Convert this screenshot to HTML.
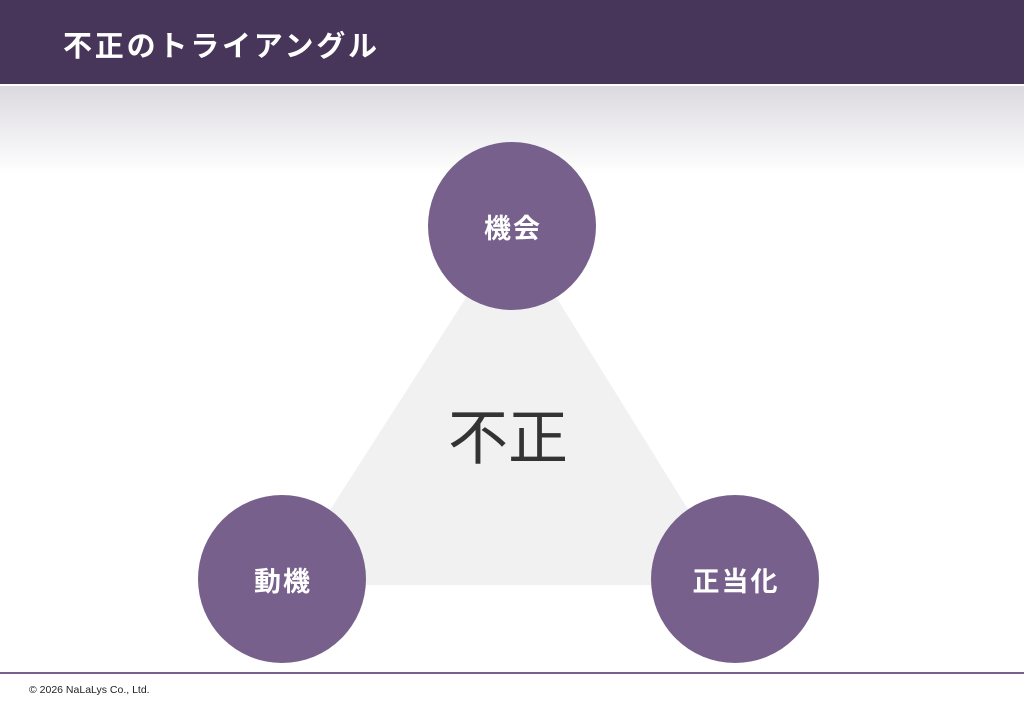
<!DOCTYPE html>
<html><head><meta charset="utf-8"><style>
body{margin:0;width:1024px;height:709px;position:relative;background:#fff;overflow:hidden;font-family:"Liberation Sans","Noto Sans CJK JP",sans-serif}
.hdr{position:absolute;left:0;top:0;width:1024px;height:84px;background:#48365a}
.hdr span{position:absolute;left:63px;top:30px;color:#fff;font-size:29px;font-weight:bold;letter-spacing:2.8px;line-height:34px}
.grad{position:absolute;left:0;top:86px;width:1024px;height:88px;background:linear-gradient(#dcd9df,#fff)}
.foot{position:absolute;left:0;top:672px;width:1024px;height:2px;background:#77618c}
.ft{position:absolute;left:29px;top:684px;font-size:10.5px;color:#222}
</style></head><body>
<div class="hdr"><span>不正のトライアングル</span></div>
<div class="grad"></div>
<svg width="1024" height="709" style="position:absolute;left:0;top:0">
<polygon points="512,226 282,585 735,585" fill="#f1f1f1"/>
<g fill="#77618c">
<circle cx="512" cy="226" r="84"/>
<circle cx="282" cy="579" r="84"/>
<circle cx="735" cy="579" r="84"/>
</g>
<g font-family="Liberation Sans, Noto Sans CJK JP, sans-serif" fill="#fff" font-size="27" text-anchor="middle" font-weight="bold" letter-spacing="2">
<text x="513" y="238">機会</text>
<text x="283" y="591">動機</text>
<text x="736" y="591">正当化</text>
</g>
<text x="508" y="459" text-anchor="middle" font-family="Liberation Sans, Noto Sans CJK JP, sans-serif" font-size="60" fill="#333">不正</text>
</svg>
<div class="foot"></div>
<div class="ft">© 2026 NaLaLys Co., Ltd.</div>
</body></html>
